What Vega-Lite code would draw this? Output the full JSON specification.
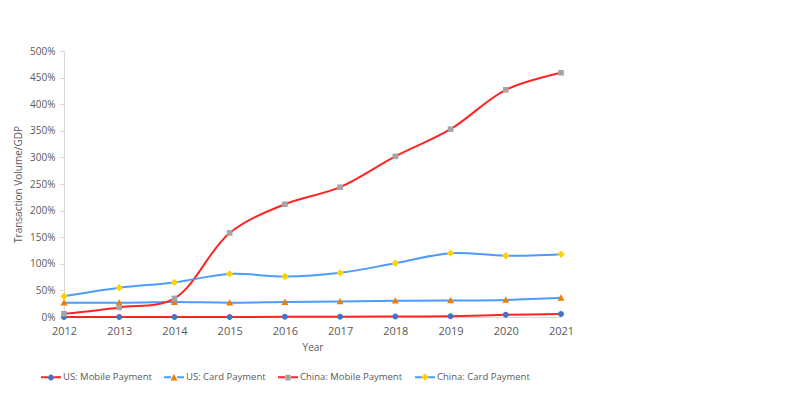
{
  "$schema": "https://vega.github.io/schema/vega-lite/v6.json",
  "autosize": {"type": "none"},
  "width": 497,
  "height": 266,
  "padding": {"left": 64, "top": 51, "right": 239, "bottom": 88},
  "background": "white",
  "config": {
    "view": {"stroke": null},
    "font": "Open Sans",
    "axis": {"labelFont": "Open Sans", "titleFont": "Open Sans", "labelColor": "#595959", "titleColor": "#595959", "labelFontSize": 10, "titleFontSize": 10, "titleFontWeight": "normal", "grid": false},
    "legend": {"labelFont": "Open Sans", "labelFontSize": 9.5, "labelColor": "#595959"}
  },
  "data": {"values": [
    {"year": "2012", "series": "US: Mobile Payment", "value": 0.0},
    {"year": "2013", "series": "US: Mobile Payment", "value": 0.0},
    {"year": "2014", "series": "US: Mobile Payment", "value": 0.0},
    {"year": "2015", "series": "US: Mobile Payment", "value": 0.0},
    {"year": "2016", "series": "US: Mobile Payment", "value": 0.003},
    {"year": "2017", "series": "US: Mobile Payment", "value": 0.005},
    {"year": "2018", "series": "US: Mobile Payment", "value": 0.008},
    {"year": "2019", "series": "US: Mobile Payment", "value": 0.015},
    {"year": "2020", "series": "US: Mobile Payment", "value": 0.04},
    {"year": "2021", "series": "US: Mobile Payment", "value": 0.056},
    {"year": "2012", "series": "US: Card Payment", "value": 0.27},
    {"year": "2013", "series": "US: Card Payment", "value": 0.27},
    {"year": "2014", "series": "US: Card Payment", "value": 0.28},
    {"year": "2015", "series": "US: Card Payment", "value": 0.27},
    {"year": "2016", "series": "US: Card Payment", "value": 0.28},
    {"year": "2017", "series": "US: Card Payment", "value": 0.29},
    {"year": "2018", "series": "US: Card Payment", "value": 0.305},
    {"year": "2019", "series": "US: Card Payment", "value": 0.31},
    {"year": "2020", "series": "US: Card Payment", "value": 0.32},
    {"year": "2021", "series": "US: Card Payment", "value": 0.36},
    {"year": "2012", "series": "China: Mobile Payment", "value": 0.06},
    {"year": "2013", "series": "China: Mobile Payment", "value": 0.18},
    {"year": "2014", "series": "China: Mobile Payment", "value": 0.35},
    {"year": "2015", "series": "China: Mobile Payment", "value": 1.58},
    {"year": "2016", "series": "China: Mobile Payment", "value": 2.12},
    {"year": "2017", "series": "China: Mobile Payment", "value": 2.44},
    {"year": "2018", "series": "China: Mobile Payment", "value": 3.02},
    {"year": "2019", "series": "China: Mobile Payment", "value": 3.53},
    {"year": "2020", "series": "China: Mobile Payment", "value": 4.27},
    {"year": "2021", "series": "China: Mobile Payment", "value": 4.59},
    {"year": "2012", "series": "China: Card Payment", "value": 0.39},
    {"year": "2013", "series": "China: Card Payment", "value": 0.55},
    {"year": "2014", "series": "China: Card Payment", "value": 0.65},
    {"year": "2015", "series": "China: Card Payment", "value": 0.81},
    {"year": "2016", "series": "China: Card Payment", "value": 0.76},
    {"year": "2017", "series": "China: Card Payment", "value": 0.83},
    {"year": "2018", "series": "China: Card Payment", "value": 1.01},
    {"year": "2019", "series": "China: Card Payment", "value": 1.2},
    {"year": "2020", "series": "China: Card Payment", "value": 1.15},
    {"year": "2021", "series": "China: Card Payment", "value": 1.18}
  ]},
  "encoding": {
    "x": {"field": "year", "type": "ordinal", "scale": {"type": "point", "padding": 0},
      "axis": {"title": "Year", "labelAngle": 0, "ticks": false, "domainColor": "#D9D9D9", "labelPadding": 8, "titlePadding": 6, "labelFontSize": 11}},
    "y": {"field": "value", "type": "quantitative", "scale": {"domain": [0, 5], "nice": false},
      "axis": {"title": "Transaction Volume/GDP", "format": ".0%", "values": [0, 0.5, 1, 1.5, 2, 2.5, 3, 3.5, 4, 4.5, 5], "domainColor": "#D9D9D9", "tickColor": "#D9D9D9", "tickSize": 5, "labelPadding": 4, "titlePadding": 6}}
  },
  "layer": [
    {
      "mark": {"type": "line", "interpolate": "catmull-rom", "strokeWidth": 2},
      "encoding": {
        "stroke": {"field": "series", "type": "nominal",
          "sort": ["US: Mobile Payment", "US: Card Payment", "China: Mobile Payment", "China: Card Payment"],
          "scale": {"range": ["#FF2424", "#4C9BFF", "#FF2424", "#4C9BFF"]},
          "legend": {"title": null, "orient": "none", "legendX": -24, "legendY": 315, "direction": "horizontal", "columns": 4,
            "symbolType": "M-1,0H-0.3M0.3,0H1", "symbolSize": 400, "symbolStrokeWidth": 2, "labelOffset": 1, "columnPadding": 8}},
        "detail": {"field": "series"}
      }
    },
    {
      "mark": {"type": "point", "filled": true, "size": 400, "opacity": 1},
      "encoding": {
        "fill": {"field": "series", "type": "nominal",
          "scale": {"domain": ["US: Mobile Payment", "US: Card Payment", "China: Mobile Payment", "China: Card Payment"], "range": ["#4472C4", "#F07D00", "#A5A5A5", "#FFD200"]},
          "legend": {"title": null, "orient": "none", "legendX": -24, "legendY": 315, "direction": "horizontal", "columns": 4,
            "symbolSize": 400, "symbolStrokeWidth": 2, "symbolStrokeColor": "transparent", "labelOffset": 1, "columnPadding": 8, "labelOpacity": 0}},
        "shape": {"field": "series", "type": "nominal",
          "scale": {"domain": ["US: Mobile Payment", "US: Card Payment", "China: Mobile Payment", "China: Card Payment"],
            "range": ["M-1,0L-1,0M1,0L1,0M-0.3,0A0.3,0.3 0 1,0 0.3,0A0.3,0.3 0 1,0 -0.3,0Z", "M-1,0L-1,0M1,0L1,0M0,-0.35L0.35,0.28L-0.35,0.28Z", "M-1,0L-1,0M1,0L1,0M-0.28,-0.28H0.28V0.28H-0.28Z", "M-1,0L-1,0M1,0L1,0M0,-0.37L0.37,0L0,0.37L-0.37,0Z"]},
          "legend": {"title": null, "orient": "none", "legendX": -24, "legendY": 315, "direction": "horizontal", "columns": 4,
            "symbolSize": 400, "symbolStrokeWidth": 2, "symbolStrokeColor": "transparent", "labelOffset": 1, "columnPadding": 8, "labelOpacity": 0}}
      }
    }
  ]
}
